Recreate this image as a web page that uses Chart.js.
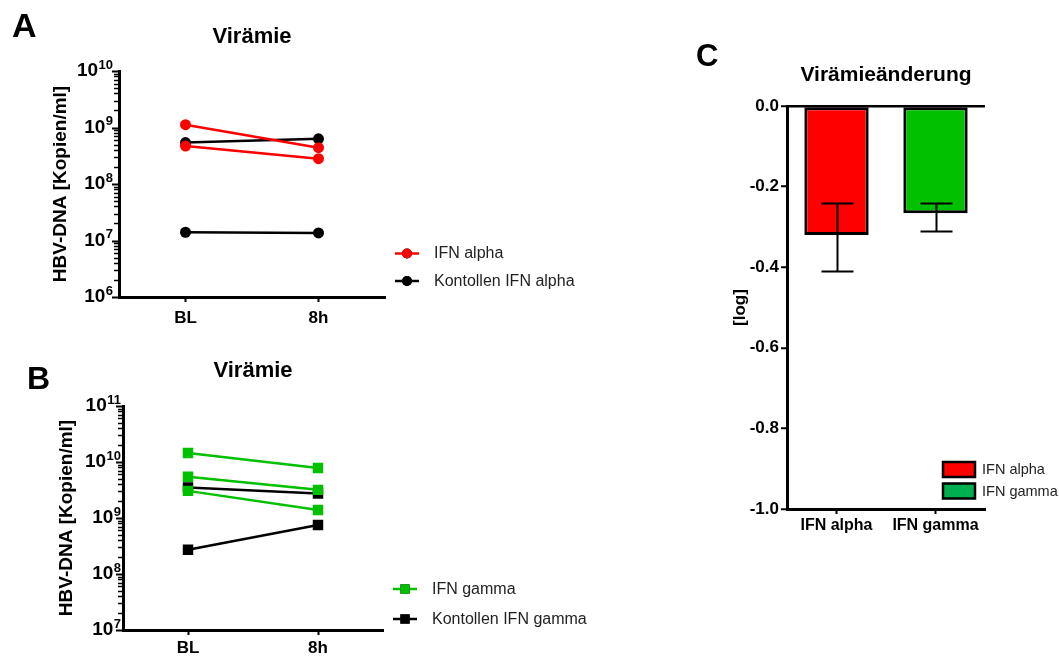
<!DOCTYPE html>
<html>
<head>
<meta charset="utf-8">
<script src="https://cdn.jsdelivr.net/npm/chart.js@4"></script>
<style>
  html, body { margin: 0; padding: 0; background: #fff; }
  body { width: 1059px; height: 660px; position: relative; overflow: hidden; }
  canvas { position: absolute; }
  #chartA { left: 0; top: 0; }
  #chartB { left: 0; top: 330px; }
  #chartC { left: 680px; top: 0; }
</style>
</head>
<body>
<canvas id="chartA" width="620" height="330"></canvas>
<canvas id="chartB" width="620" height="330"></canvas>
<canvas id="chartC" width="379" height="560"></canvas>
<script>
const timepoints = ["BL", "8h"];

// HBV-DNA copies/ml at baseline and 8h, one row per animal
const ifnAlpha = [
  [1.12e9, 4.4e8],
  [4.7e8, 2.8e8],
];
const ctrlAlpha = [
  [5.4e8, 6.3e8],
  [1.4e7, 1.36e7],
];
const ifnGamma = [
  [1.45e10, 7.8e9],
  [5.45e9, 3.18e9],
  [3.05e9, 1.39e9],
];
const ctrlGamma = [
  [3.5e9, 2.75e9],
  [2.7e8, 7.5e8],
];

// change of viraemia in log10, mean with error range
const treatments = ["IFN alpha", "IFN gamma"];
const meanChange = [-0.32, -0.266];
const errLower = [-0.409, -0.31];
const errUpper = [-0.24, -0.24];

const RED = "#ff0000";
const GREEN = "#00c000";
const BLACK = "#000000";
const legendColors = ["#ff0000", "#00b050"];

const FONT = "'Liberation Sans', Arial, Helvetica, sans-serif";
Chart.defaults.font.family = FONT;
Chart.defaults.color = BLACK;

// log axis: decade ticks + minor ticks, labels as 10 with raised exponent
const logAxis = {
  id: "logAxis",
  afterDraw(chart, args, opts) {
    const scale = chart.scales.y;
    if (!scale || scale.type !== "logarithmic") return;
    const ctx = chart.ctx;
    const x = scale.right;
    const lo = Math.round(Math.log10(scale.min));
    const hi = Math.round(Math.log10(scale.max));
    ctx.save();
    ctx.strokeStyle = BLACK;
    ctx.fillStyle = BLACK;
    for (let e = lo; e <= hi; e++) {
      const last = e === hi ? 1 : 9;
      for (let k = 1; k <= last; k++) {
        const y = Math.round(scale.getPixelForValue(k * Math.pow(10, e))) + 0.5;
        ctx.lineWidth = k === 1 ? 2 : 1.5;
        ctx.beginPath();
        ctx.moveTo(x - (k === 1 ? 7 : 5), y);
        ctx.lineTo(x, y);
        ctx.stroke();
      }
      const y = scale.getPixelForValue(Math.pow(10, e));
      const right = x - opts.labelGap;
      ctx.textBaseline = "middle";
      ctx.textAlign = "right";
      ctx.font = "bold 13px " + FONT;
      const expWidth = ctx.measureText(String(e)).width;
      ctx.fillText(String(e), right, y - 6);
      ctx.font = "bold 19px " + FONT;
      ctx.fillText("10", right - expWidth - 0.5, y);
    }
    ctx.restore();
  },
};

// legend built from the dataset groups (one entry per label)
const groupLegend = {
  id: "groupLegend",
  afterDraw(chart, args, opts) {
    if (opts.x === undefined) return;
    const ctx = chart.ctx;
    ctx.save();
    ctx.textBaseline = "middle";
    ctx.textAlign = "left";
    ctx.font = opts.fontSize + "px " + FONT;
    if (opts.kind === "box") {
      chart.data.labels.forEach((label, i) => {
        const y = opts.y + i * opts.gap;
        ctx.fillStyle = opts.colors[i];
        ctx.fillRect(opts.x, y - 7.5, 32, 15);
        ctx.lineWidth = 2.5;
        ctx.strokeStyle = BLACK;
        ctx.strokeRect(opts.x, y - 7.5, 32, 15);
        ctx.fillStyle = "#222";
        ctx.fillText(label, opts.x + 39, y + 0.5);
      });
    } else {
      const groups = [];
      chart.data.datasets.forEach((ds) => {
        if (!groups.find((g) => g.label === ds.label)) groups.push(ds);
      });
      groups.forEach((ds, i) => {
        const y = opts.y + i * opts.gap;
        const cx = opts.x + 12;
        ctx.strokeStyle = ds.borderColor;
        ctx.lineWidth = 2.5;
        ctx.beginPath();
        ctx.moveTo(opts.x, y);
        ctx.lineTo(opts.x + 24, y);
        ctx.stroke();
        Chart.helpers.drawPoint(ctx, {
          pointStyle: ds.pointStyle,
          radius: ds.pointStyle === "rect" ? 6.6 : 5,
          borderWidth: 0,
        }, cx, y);
        ctx.fillStyle = ds.borderColor;
        ctx.fill();
        ctx.fillStyle = "#222";
        ctx.fillText(ds.label, opts.x + 39, y + 0.5);
      });
    }
    ctx.restore();
  },
};

const panelLetter = {
  id: "panelLetter",
  afterDraw(chart, args, opts) {
    const ctx = chart.ctx;
    ctx.save();
    ctx.fillStyle = BLACK;
    ctx.textBaseline = "alphabetic";
    ctx.textAlign = "left";
    ctx.font = "bold " + opts.size + "px " + FONT;
    ctx.fillText(opts.text, opts.x, opts.y);
    ctx.restore();
  },
};

const errorBars = {
  id: "errorBars",
  afterDatasetsDraw(chart) {
    const ctx = chart.ctx;
    const yScale = chart.scales.y;
    const meta = chart.getDatasetMeta(0);
    ctx.save();
    ctx.strokeStyle = BLACK;
    ctx.lineWidth = 2;
    meta.data.forEach((bar, i) => {
      const x = Math.round(bar.x) + 0.5;
      const top = Math.round(yScale.getPixelForValue(errUpper[i])) + 0.5;
      const bottom = Math.round(yScale.getPixelForValue(errLower[i])) + 0.5;
      ctx.beginPath();
      ctx.moveTo(x, top);
      ctx.lineTo(x, bottom);
      ctx.moveTo(x - 16, top);
      ctx.lineTo(x + 16, top);
      ctx.moveTo(x - 16, bottom);
      ctx.lineTo(x + 16, bottom);
      ctx.stroke();
    });
    ctx.restore();
  },
};

function lineDatasets(rows, label, color, style, radius) {
  return rows.map((r) => ({
    label: label,
    data: r,
    borderColor: color,
    backgroundColor: color,
    pointBackgroundColor: color,
    pointBorderColor: color,
    pointBorderWidth: 0,
    pointStyle: style,
    pointRadius: radius,
    borderWidth: 2.5,
  }));
}

function viraemiaChart(id, datasets, c) {
  return new Chart(document.getElementById(id), {
    type: "line",
    data: { labels: timepoints, datasets: datasets },
    plugins: [logAxis, groupLegend, panelLetter],
    options: {
      responsive: false,
      animation: false,
      devicePixelRatio: 1,
      layout: { padding: { left: 0, top: 0, right: c.padRight, bottom: 0 } },
      plugins: {
        legend: { display: false },
        tooltip: { enabled: false },
        title: {
          display: true,
          text: "Virämie",
          fullSize: false,
          color: BLACK,
          font: { size: 22, weight: "bold" },
          padding: { top: c.titleTop, bottom: c.titleBottom },
        },
        logAxis: { labelGap: c.labelGap },
        groupLegend: { x: c.legendX, y: c.legendY, gap: c.legendGap, fontSize: 16 },
        panelLetter: c.letter,
      },
      scales: {
        x: {
          offset: true,
          grid: { drawOnChartArea: false, tickLength: 5, tickWidth: 2, tickColor: BLACK },
          border: { color: BLACK, width: 3 },
          ticks: { color: BLACK, padding: c.xPad, font: { size: 17, weight: "bold" } },
          afterFit(s) { s.height = c.xHeight; },
        },
        y: {
          type: "logarithmic",
          min: c.min,
          max: c.max,
          grid: { display: false },
          border: { color: BLACK, width: 3 },
          ticks: { display: false },
          title: {
            display: true,
            text: "HBV-DNA [Kopien/ml]",
            color: BLACK,
            font: { size: 19, weight: "bold" },
            padding: { top: c.yTitlePad, bottom: 0 },
          },
          afterFit(s) { s.width = c.yWidth; },
        },
      },
    },
  });
}

viraemiaChart(
  "chartA",
  [
    ...lineDatasets(ifnAlpha, "IFN alpha", RED, "circle", 5.5),
    ...lineDatasets(ctrlAlpha, "Kontollen IFN alpha", BLACK, "circle", 5.5),
  ],
  {
    min: 1e6, max: 1e10,
    padRight: 235, yWidth: 119, xHeight: 33, xPad: 6,
    titleTop: 23.5, titleBottom: 21.1, yTitlePad: 49, labelGap: 6,
    legendX: 395, legendY: 253.5, legendGap: 27.5,
    letter: { text: "A", x: 12, y: 37, size: 34 },
  }
);

viraemiaChart(
  "chartB",
  [
    ...lineDatasets(ifnGamma, "IFN gamma", GREEN, "rect", 7.4),
    ...lineDatasets(ctrlGamma, "Kontollen IFN gamma", BLACK, "rect", 7.4),
  ],
  {
    min: 1e7, max: 1e11,
    padRight: 237, yWidth: 123, xHeight: 30, xPad: 3,
    titleTop: 28, titleBottom: 21.6, yTitlePad: 55, labelGap: 2,
    legendX: 393, legendY: 259, legendGap: 30,
    letter: { text: "B", x: 27, y: 59, size: 32 },
  }
);

new Chart(document.getElementById("chartC"), {
  type: "bar",
  data: {
    labels: treatments,
    datasets: [{
      label: "Virämieänderung",
      data: meanChange,
      backgroundColor: [RED, GREEN],
      borderColor: BLACK,
      borderWidth: 3,
      borderSkipped: false,
      barPercentage: 0.65,
      categoryPercentage: 1,
    }],
  },
  plugins: [errorBars, groupLegend, panelLetter],
  options: {
    responsive: false,
    animation: false,
    devicePixelRatio: 1,
    layout: { padding: { left: 0, top: 0, right: 74, bottom: 0 } },
    plugins: {
      legend: { display: false },
      tooltip: { enabled: false },
      title: {
        display: true,
        text: "Virämieänderung",
        fullSize: false,
        color: BLACK,
        font: { size: 21, weight: "bold" },
        padding: { top: 62.5, bottom: 18.3 },
      },
      groupLegend: { kind: "box", x: 263, y: 469.5, gap: 21.5, fontSize: 14.5, colors: legendColors },
      panelLetter: { text: "C", x: 16, y: 66, size: 31 },
    },
    scales: {
      x: {
        grid: { offset: false, drawOnChartArea: false, tickLength: 5, tickWidth: 2, tickColor: BLACK },
        border: { color: BLACK, width: 3 },
        ticks: { color: BLACK, padding: 2, font: { size: 16, weight: "bold" } },
        afterFit(s) { s.height = 51; },
      },
      y: {
        min: -1,
        max: 0,
        grid: {
          drawOnChartArea: true,
          color: (ctx) => (ctx.tick && ctx.tick.value === 0 ? BLACK : "rgba(0,0,0,0)"),
          lineWidth: 2.5,
          tickLength: 6,
          tickWidth: 2,
          tickColor: BLACK,
        },
        border: { color: BLACK, width: 3 },
        ticks: {
          stepSize: 0.2,
          color: BLACK,
          padding: 2,
          font: { size: 17, weight: "bold" },
          callback: (v) => Number(v).toFixed(1),
        },
        title: {
          display: true,
          text: "[log]",
          color: BLACK,
          font: { size: 17, weight: "bold" },
          padding: { top: 50, bottom: 0 },
        },
        afterFit(s) { s.width = 107; },
      },
    },
  },
});
</script>
</body>
</html>
